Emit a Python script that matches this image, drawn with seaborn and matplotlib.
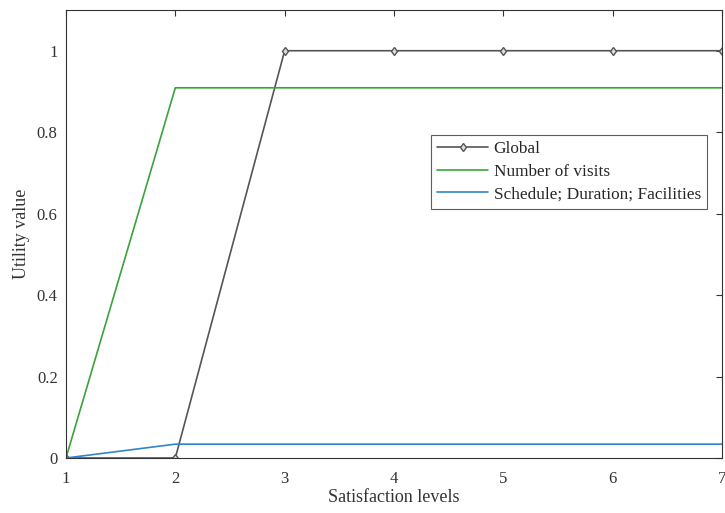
import matplotlib
matplotlib.use("Agg")
import matplotlib.pyplot as plt
import seaborn as sns
import pandas as pd

levels = [1, 2, 3, 4, 5, 6, 7]
global_util = [0, 0, 1, 1, 1, 1, 1]
visits_util = [0, 0.909, 0.909, 0.909, 0.909, 0.909, 0.909]
sched_util = [0, 0.034, 0.034, 0.034, 0.034, 0.034, 0.034]
series_names = ["Global", "Number of visits", "Schedule; Duration; Facilities"]
yticks = [0, 0.2, 0.4, 0.6, 0.8, 1]
ytick_labels = ["0", "0.2", "0.4", "0.6", "0.8", "1"]

sns.set_theme(style="white")
plt.rcParams["font.family"] = ["Liberation Serif", "DejaVu Serif"]

df = pd.DataFrame({
    "level": levels * 3,
    "value": global_util + visits_util + sched_util,
    "series": [series_names[0]] * 7 + [series_names[1]] * 7 + [series_names[2]] * 7,
})

fig = plt.figure(figsize=(7.25, 5.13), dpi=100)
ax = fig.add_axes([0.091, 0.1072, 0.9049, 0.8733])

palette = {series_names[0]: "#555555", series_names[1]: "#3aa33a", series_names[2]: "#2f86c8"}
sns.lineplot(data=df[df.series == series_names[0]], x="level", y="value", color=palette[series_names[0]],
             marker="d", markersize=4.5, markerfacecolor="#dddddd", markeredgecolor="#555555",
             markeredgewidth=1.0, linewidth=1.2, label=series_names[0], ax=ax)
sns.lineplot(data=df[df.series == series_names[1]], x="level", y="value", color=palette[series_names[1]],
             linewidth=1.2, label=series_names[1], ax=ax)
sns.lineplot(data=df[df.series == series_names[2]], x="level", y="value", color=palette[series_names[2]],
             linewidth=1.2, label=series_names[2], ax=ax)

ax.set_xlim(1, 7)
ax.set_ylim(0, 1.1)
ax.set_xticks(levels)
ax.set_xticklabels([str(l) for l in levels])
ax.set_yticks(yticks)
ax.set_yticklabels(ytick_labels)
ax.tick_params(direction="in", length=4, width=0.8, color="#333333", labelsize=12,
               labelcolor="#333333", top=True, right=True, pad=6)
ax.tick_params(axis="x", pad=9)
for s in ax.spines.values():
    s.set_color("#333333")
    s.set_linewidth(0.8)
ax.set_xlabel("Satisfaction levels", fontsize=13, color="#333333", labelpad=2)
ax.set_ylabel("Utility value", fontsize=13, color="#333333", labelpad=5)

leg = ax.legend(loc="upper right", bbox_to_anchor=(0.977, 0.722), fontsize=12.4, frameon=True,
                fancybox=False, edgecolor="#333333", handlelength=3.0, handletextpad=0.3,
                borderpad=0.35, labelspacing=0.4, borderaxespad=0)
leg.get_frame().set_linewidth(0.8)

fig.savefig("out.png", dpi=100)
